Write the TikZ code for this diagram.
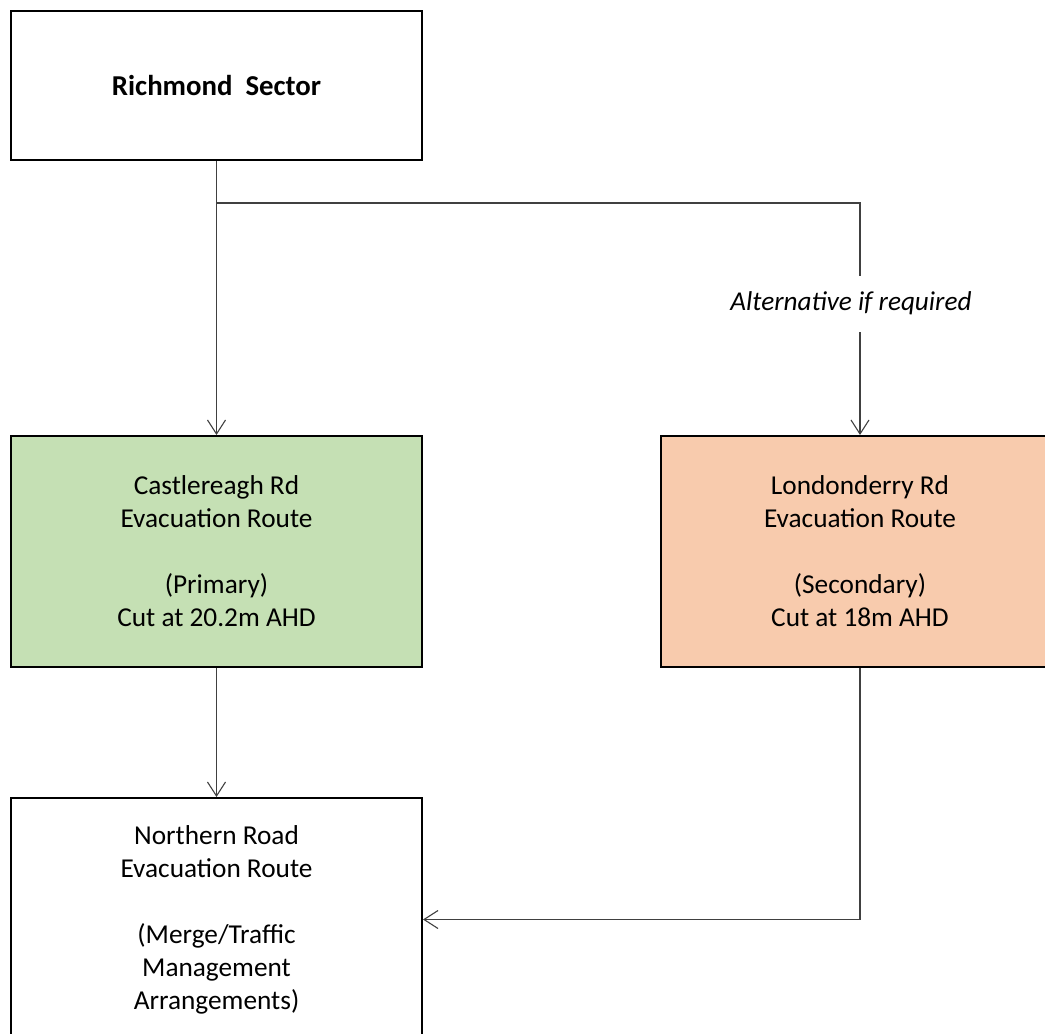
\documentclass[tikz,border=0pt]{standalone}
\usepackage{fontspec}
\setmainfont{Carlito}
\usetikzlibrary{arrows.meta}
\definecolor{primfill}{HTML}{C5E0B4}
\definecolor{secfill}{HTML}{F8CBAD}
\definecolor{linkgrey}{HTML}{404040}
\begin{document}
\begin{tikzpicture}[x=0.5pt,y=-0.5pt,
  routebox/.style={draw=black, line width=1pt, align=center, inner sep=0pt,
    font=\fontsize{13.65pt}{16.5pt}\selectfont},
  link/.style={draw=linkgrey, line width=0.55pt},
  arr/.style={link, -{Straight Barb[length=7pt,width=9pt,line width=0.55pt]}}]
  \useasboundingbox (0,0) rectangle (1045,1034);
  \clip (0,0) rectangle (1045,1034);

  % boxes
  \node[routebox, minimum width=205.5pt, minimum height=74.5pt] (rich) at (216.5,85.5)
    {\fontsize{14.4pt}{17pt}\selectfont\bfseries Richmond\hspace{0.45em}Sector};
  \node[routebox, fill=primfill, minimum width=205.5pt, minimum height=115.5pt] (castle) at (216.5,551.5)
    {Castlereagh Rd\\Evacuation Route\\[16.5pt](Primary)\\Cut at 20.2m AHD};
  \node[routebox, fill=secfill, minimum width=199pt, minimum height=115.5pt] (london) at (860,551.5)
    {Londonderry Rd\\Evacuation Route\\[16.5pt](Secondary)\\Cut at 18m AHD};
  \node[routebox, minimum width=205.5pt, minimum height=121.5pt] (north) at (216.5,919.5)
    {Northern Road\\Evacuation Route\\[16.5pt](Merge/Traffic\\Management\\Arrangements)};

  % branch label
  \node[font=\fontsize{13.6pt}{16.5pt}\selectfont\itshape, inner sep=0pt] (alt) at (851,303)
    {Alternative if required};

  % connectors
  \coordinate (split) at (216.5,203);
  \coordinate (altin) at (860,276);
  \coordinate (altout) at (860,332);
  \draw[arr] (rich.south) -- (castle.north);
  \draw[link] (split) -| (altin);
  \draw[arr] (altout) -- (london.north);
  \draw[arr] (castle.south) -- (north.north);
  \draw[arr] (london.south) |- (north.east);
\end{tikzpicture}
\end{document}
